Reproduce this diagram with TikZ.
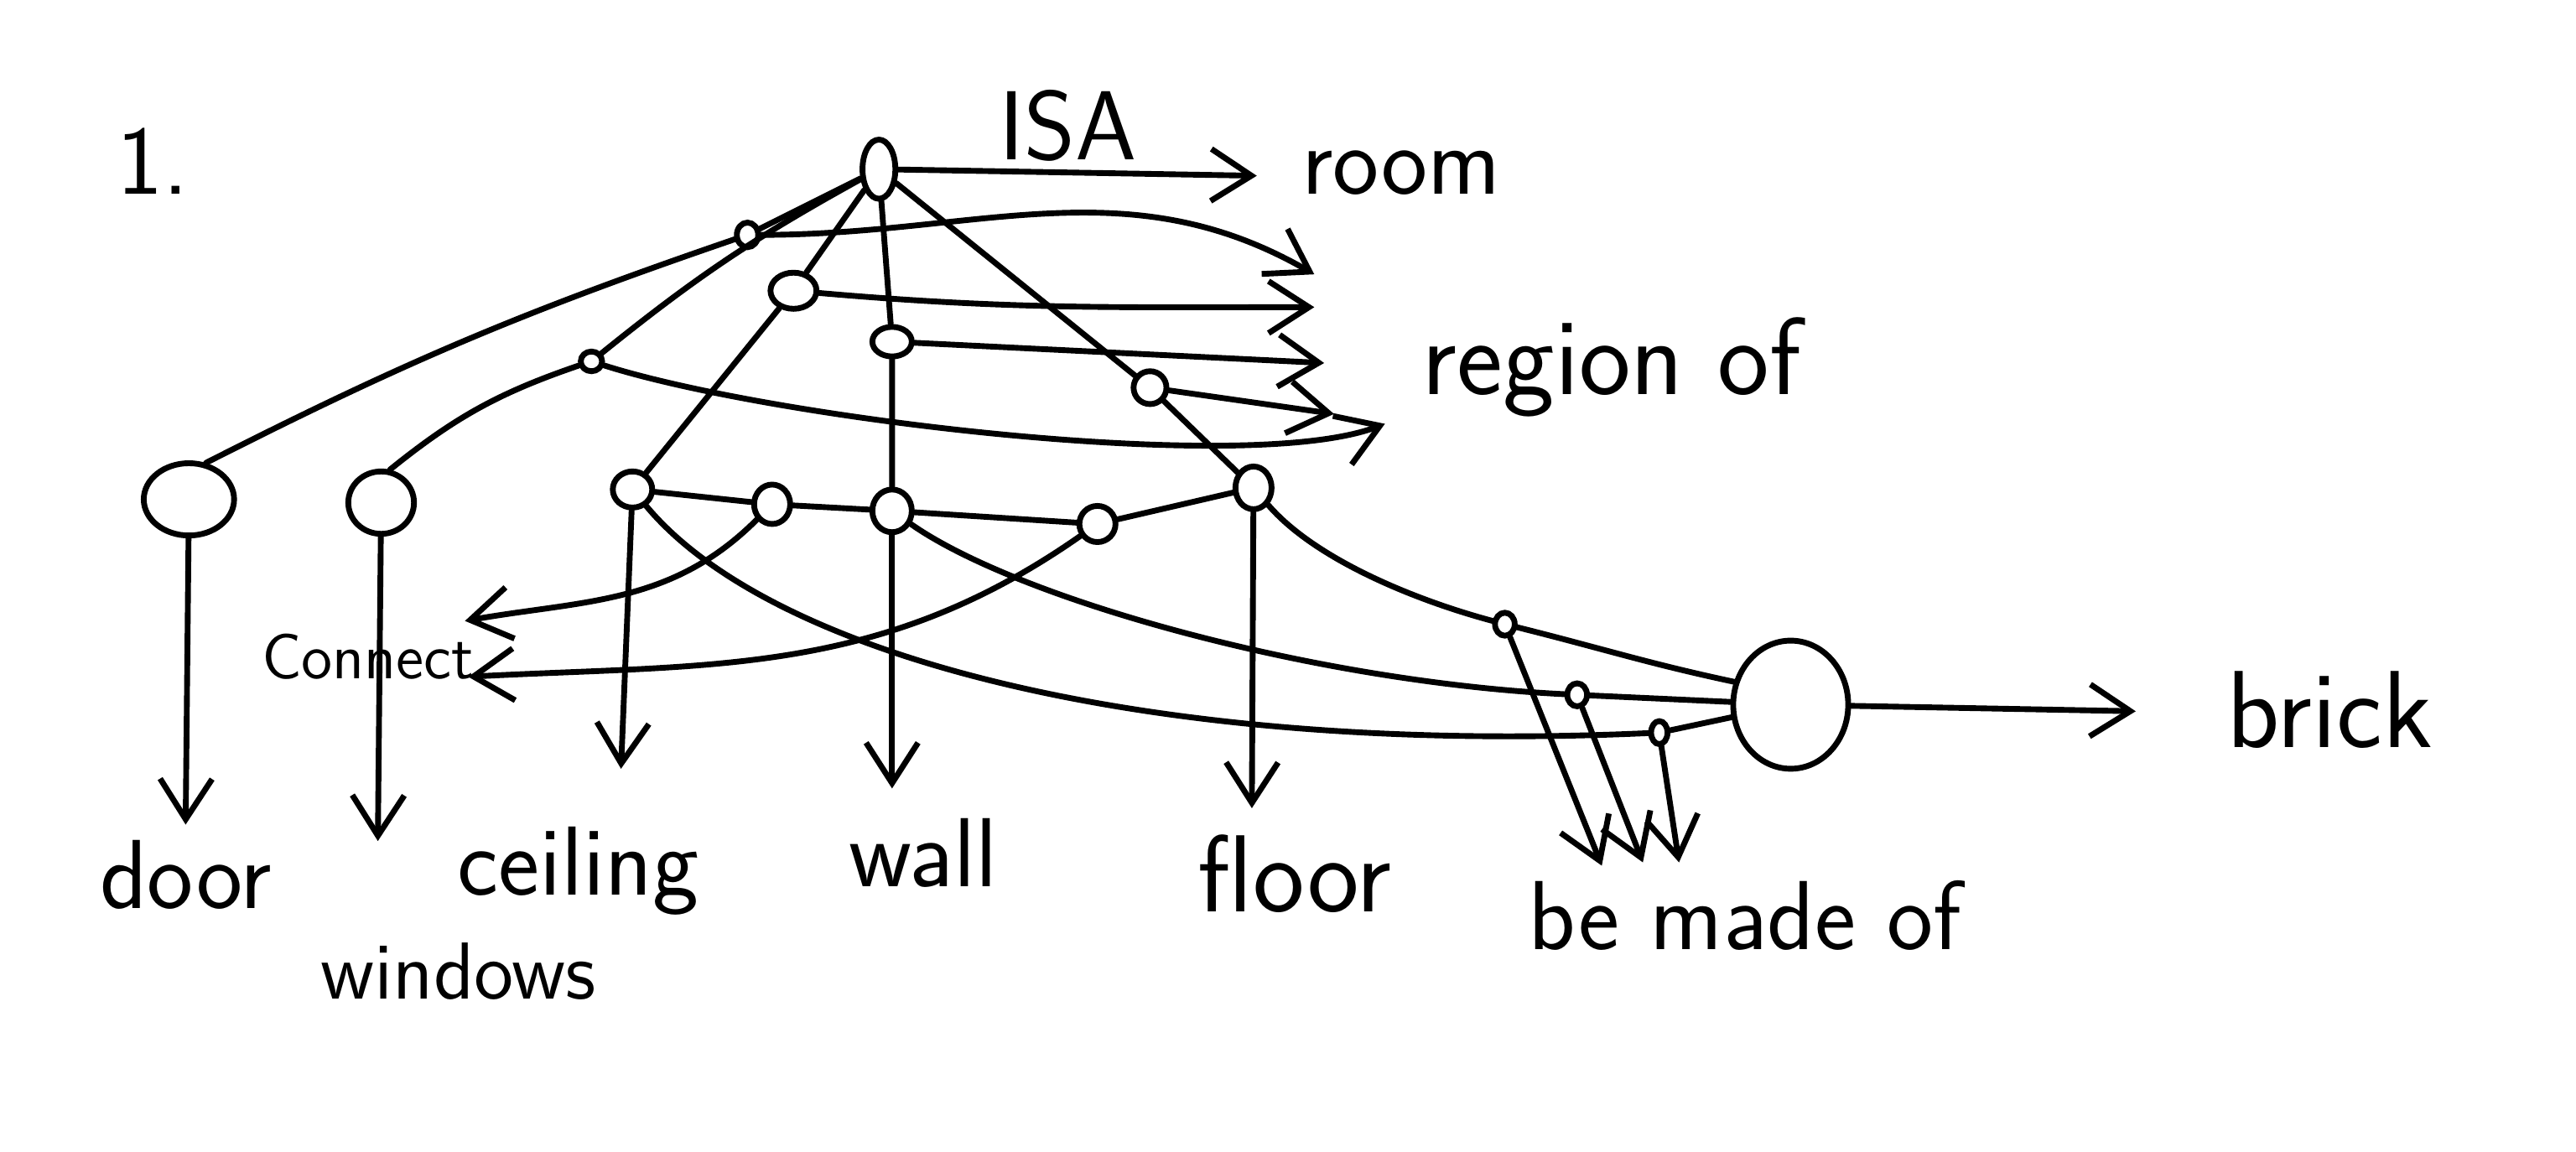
\documentclass[tikz,border=0pt]{standalone}
\usepackage{fontspec}
\usetikzlibrary{arrows.meta,shapes.geometric}
\begin{document}
\begin{tikzpicture}[x=0.1mm,y=0.1mm,line width=1pt,line cap=round,>={Straight Barb[length=7pt,width=9pt]}]
\tikzstyle{every node}=[inner sep=0pt]
\tikzstyle{blob}=[draw,ellipse]
\tikzstyle{word}=[anchor=base,font=\sffamily\fontsize{17}{20}\selectfont]
\useasboundingbox (0,0) rectangle (1568,-701);
\draw (535,-103) node (v0) [blob,minimum width=2mm,minimum height=3.6mm] {};
\draw (115,-304) node (v1) [blob,minimum width=5.5mm,minimum height=4.4mm] {};
\draw (232,-306) node (v2) [blob,minimum width=4mm,minimum height=3.8mm] {};
\draw (385,-298) node (v3) [blob,minimum width=2.4mm,minimum height=2.2mm] {};
\draw (543,-311) node (v4) [blob,minimum width=2.4mm,minimum height=2.6mm] {};
\draw (763,-297) node (v5) [blob,minimum width=2.2mm,minimum height=2.6mm] {};
\draw (1090,-429) node (v6) [blob,minimum width=7mm,minimum height=7.8mm] {};
\draw (455,-143) node (l1) [blob,minimum width=1.3mm,minimum height=1.5mm] {};
\draw (483,-177) node (l2) [blob,minimum width=2.8mm,minimum height=2.2mm] {};
\draw (543,-208) node (l3) [blob,minimum width=2.4mm,minimum height=1.8mm] {};
\draw (700,-236) node (l4) [blob,minimum width=2mm,minimum height=2mm] {};
\draw (360,-220) node (l5) [blob,minimum width=1.3mm,minimum height=1.2mm] {};
\draw (470,-307) node (c1) [blob,minimum width=2.2mm,minimum height=2.4mm] {};
\draw (668,-319) node (c2) [blob,minimum width=2.2mm,minimum height=2.2mm] {};
\draw (916,-380) node (m1) [blob,minimum width=1.2mm,minimum height=1.4mm] {};
\draw (960,-423) node (m2) [blob,minimum width=1.2mm,minimum height=1.4mm] {};
\draw (1010,-446) node (m3) [blob,minimum width=1mm,minimum height=1.4mm] {};
\coordinate (p0) at (765,-107);
\coordinate (p6) at (1300,-433);
\coordinate (r1) at (800,-167);
\coordinate (r2) at (800,-187);
\coordinate (r3) at (806,-221);
\coordinate (r4) at (812,-252);
\coordinate (r5) at (843,-258);
\coordinate (d1) at (113,-502);
\coordinate (d2) at (230,-512);
\coordinate (d3) at (378,-468);
\coordinate (d4) at (543,-480);
\coordinate (d5) at (762,-492);
\coordinate (k1) at (283,-378);
\coordinate (k2) at (285,-412);
\coordinate (b1) at (975,-527);
\coordinate (b2) at (1000,-525);
\coordinate (b3) at (1022,-525);
\draw (93,-118) node (tnum) [word] {1.};
\draw (650,-97) node (tisa) [word] {ISA};
\draw (853,-118) node (troom) [word] {room};
\draw (981,-240) node (tregion) [word,font=\sffamily\fontsize{19}{22}\selectfont] {region of};
\draw (224,-413) node (tconn) [word,font=\sffamily\fontsize{11}{13}\selectfont] {Connect};
\draw (113,-553) node (tdoor) [word] {door};
\draw (279,-608) node (twin) [word,font=\sffamily\fontsize{14}{16}\selectfont] {windows};
\draw (352,-545) node (tceil) [word] {ceiling};
\draw (562,-540) node (twall) [word] {wall};
\draw (788,-555) node (tfloor) [word,font=\sffamily\fontsize{19}{22}\selectfont] {floor};
\draw (1062,-578) node (tmade) [word] {be made of};
\draw (1418,-455) node (tbrick) [word,font=\sffamily\fontsize{19}{22}\selectfont] {brick};
\draw[->] (v0) -- (p0);
\draw (v0) -- (l1);
\draw (l1) to[bend right=4] (v1.65);
\draw (v0) to[bend right=5] (l5);
\draw (l5) to[bend right=10] (v2.75);
\draw (v0) -- (l2) -- (v3);
\draw (v0) -- (l3) -- (v4);
\draw (v0) -- (l4) -- (v5);
\draw[->] (l1.east) to[out=0,in=150] (r1);
\draw[->] (l2) to[out=-5,in=180] (r2);
\draw[->] (l3) -- (r3);
\draw[->] (l4) -- (r4);
\draw[->] (l5) .. controls (470,-255) and (760,-290) .. (r5);
\draw (v3) -- (c1) -- (v4) -- (c2) -- (v5);
\draw[->] (c1) to[out=225,in=10] (k1);
\draw[->] (c2) to[out=215,in=3] (k2);
\draw (v5) .. controls (800,-340) and (860,-365) .. (m1);
\draw (m1) to[out=-14,in=168] (v6.158);
\draw (v4) .. controls (620,-365) and (800,-415) .. (m2);
\draw (m2) -- (v6);
\draw (v3) .. controls (470,-400) and (700,-460) .. (m3);
\draw (m3) -- (v6);
\draw[->] (m1) -- (b1);
\draw[->] (m2) -- (b2);
\draw[->] (m3) -- (b3);
\draw[->] (v1) -- (d1);
\draw[->] (v2) -- (d2);
\draw[->] (v3) -- (d3);
\draw[->] (v4) -- (d4);
\draw[->] (v5) -- (d5);
\draw[->] (v6) -- (p6);
\end{tikzpicture}
\end{document}
